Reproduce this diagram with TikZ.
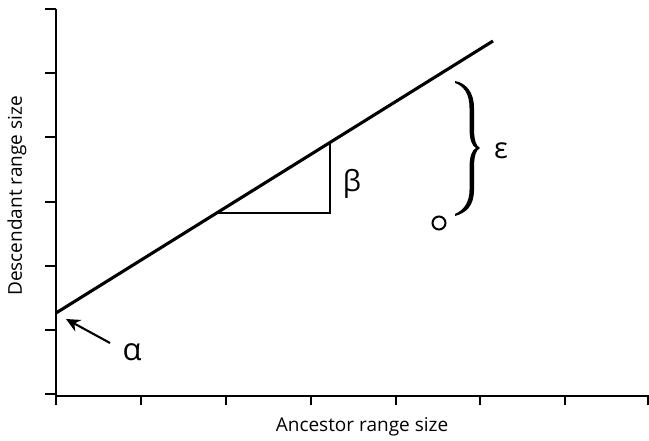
\documentclass[tikz,border=0pt]{standalone}
\usepackage{fontspec}
\setmainfont{Open Sans}
\usetikzlibrary{arrows.meta}
\begin{document}
\begin{tikzpicture}[x=1pt,y=-1pt,
  axis/.style={line width=2.1pt},
  tick/.style={line width=1.9pt},
  fitline/.style={line width=3.1pt},
  tri/.style={line width=2.3pt},
  lbl/.style={font=\fontsize{19}{22}\selectfont, inner sep=0pt},
  greek/.style={inner sep=0pt}]
\useasboundingbox[fill=white] (0,0) rectangle (649,440);
% axes
\coordinate (ytop) at (56,9);
\coordinate (ybot) at (56,405);
\coordinate (xl) at (55,396);
\coordinate (xr) at (649,396);
\draw[axis] (ytop) -- (ybot);
\draw[axis] (xl) -- (xr);
\foreach \y in {9,73,137,202,266,330,394} \draw[tick] (45,\y) -- (56,\y);
\foreach \x in {141,226,311,396,480,565,648} \draw[tick] (\x,396) -- (\x,405);
% fitted line
\coordinate (ls) at (56,313);
\coordinate (le) at (493,41);
\draw[fitline] (ls) -- (le);
% slope triangle
\coordinate (ta) at (217,213);
\coordinate (tb) at (330,213);
\coordinate (tc) at (330,144);
\draw[tri] (ta) -- (tb) -- (tc);
\node[greek, font=\fontsize{29}{31}\selectfont] (beta) at (352,184) {β};
% brace and point
\fill (455,81) .. controls (466,83) and (474,92) .. (474,108) -- (474,128)
  .. controls (474,140) and (476,146) .. (480,148)
  .. controls (476,150) and (474,156) .. (474,168) -- (474,190)
  .. controls (474,206) and (466,213) .. (455,216)
  -- (455,214) .. controls (464,210) and (469.5,202) .. (469.5,190) -- (469.5,168)
  .. controls (469.5,156) and (472,150) .. (476,148)
  .. controls (472,146) and (469.5,140) .. (469.5,128) -- (469.5,108)
  .. controls (469.5,94) and (464,86) .. (455,83) -- cycle;
\node[greek, font=\fontsize{29}{31}\selectfont] (eps) at (501,151) {ε};
\node[draw, circle, line width=2pt, minimum size=13pt, inner sep=0pt] (pt) at (439,223) {};
% alpha arrow
\coordinate (as) at (110,343);
\coordinate (ae) at (66,319);
\draw[line width=2.1pt, -{Stealth[length=14pt,width=13pt]}] (as) -- (ae);
\node[greek, font=\fontsize{31}{33}\selectfont] (alpha) at (132,352) {α};
% axis labels
\node[lbl] (xlab) at (362,427) {Ancestor range size};
\node[lbl, rotate=90] (ylab) at (17,196) {Descendant range size};
\end{tikzpicture}
\end{document}
